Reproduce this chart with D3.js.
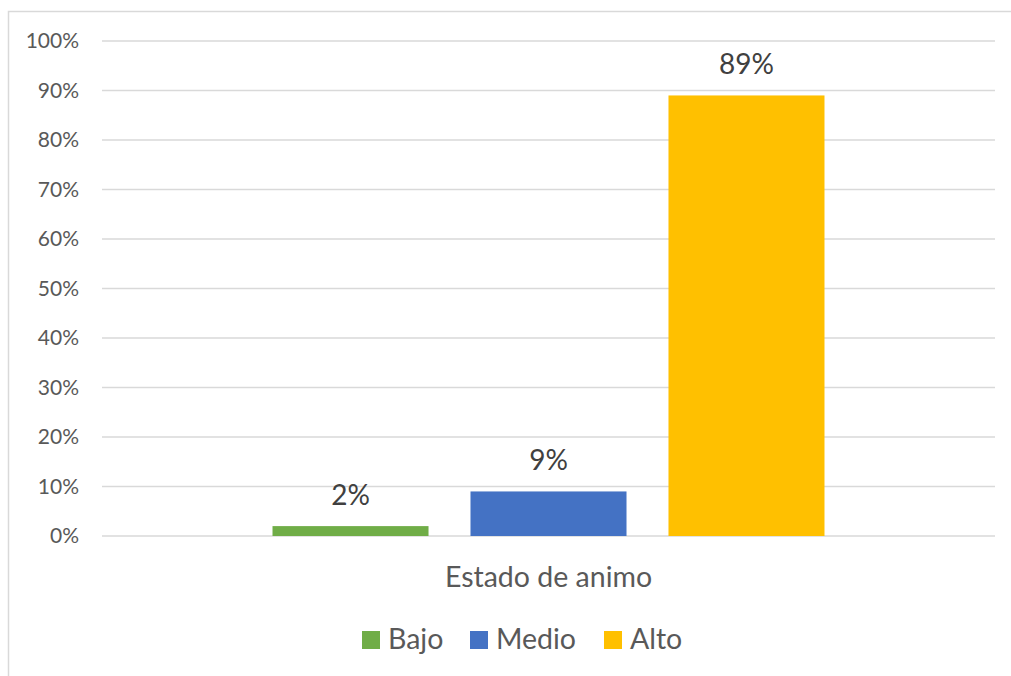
<!DOCTYPE html>
<html>
<head>
<meta charset="utf-8">
<script src="https://cdn.jsdelivr.net/npm/d3@7"></script>
<style>
  html, body { margin: 0; padding: 0; background: #fff; }
  svg { display: block; font-family: Lato, "Open Sans", sans-serif; }
</style>
</head>
<body>
<svg id="chart" width="1011" height="676"></svg>
<script>
// Category axis and series
const categories = ["Estado de animo"];
const seriesNames = ["Bajo", "Medio", "Alto"];
const seriesValues = [0.02, 0.09, 0.89];
const seriesColors = ["#70AD47", "#4472C4", "#FFC000"];
const yTicks = [0, 0.1, 0.2, 0.3, 0.4, 0.5, 0.6, 0.7, 0.8, 0.9, 1.0];

const svg = d3.select("#chart");

// Outer chart frame
svg.append("rect")
  .attr("x", 8.5).attr("y", 11.5)
  .attr("width", 1020).attr("height", 700)
  .attr("fill", "none").attr("stroke", "#d9d9d9").attr("stroke-width", 1.5);

const plot = { left: 102, right: 995, top: 41, bottom: 536 };

const y = d3.scaleLinear().domain([0, 1]).range([plot.bottom, plot.top]);

const x0 = d3.scaleBand().domain(categories)
  .range([plot.left, plot.right]).paddingInner(0.236).paddingOuter(0.236);
const x1 = d3.scaleBand().domain(seriesNames)
  .range([0, x0.bandwidth()]).paddingInner(0.212).paddingOuter(0);

// Gridlines
svg.append("g").selectAll("line").data(yTicks).join("line")
  .attr("x1", plot.left).attr("x2", plot.right)
  .attr("y1", d => y(d)).attr("y2", d => y(d))
  .attr("stroke", "#d9d9d9").attr("stroke-width", 1.5);

// Y axis labels
const yAxis = d3.axisLeft(y).tickValues(yTicks)
  .tickFormat(d3.format(".0%")).tickSize(0).tickPadding(23);
const gy = svg.append("g").attr("transform", `translate(${plot.left},0)`).call(yAxis);
gy.select(".domain").remove();
gy.selectAll("text").attr("fill", "#595959").attr("font-size", 21)
  .attr("font-family", "Lato, 'Open Sans', sans-serif");

// Bars
const group = svg.append("g").attr("transform", `translate(${x0(categories[0])},0)`);
group.selectAll("rect").data(seriesNames).join("rect")
  .attr("x", d => x1(d))
  .attr("width", x1.bandwidth())
  .attr("y", (d, i) => y(seriesValues[i]))
  .attr("height", (d, i) => y(0) - y(seriesValues[i]))
  .attr("fill", (d, i) => seriesColors[i]);

// Value labels
group.selectAll("text.val").data(seriesNames).join("text")
  .attr("class", "val")
  .attr("x", d => x1(d) + x1.bandwidth() / 2)
  .attr("y", (d, i) => y(seriesValues[i]) - 21)
  .attr("text-anchor", "middle")
  .attr("font-size", 28).attr("fill", "#404040")
  .text((d, i) => d3.format(".0%")(seriesValues[i]));

// Category label
svg.append("text")
  .attr("x", x0(categories[0]) + x0.bandwidth() / 2)
  .attr("y", 587)
  .attr("text-anchor", "middle")
  .attr("font-size", 28.5).attr("fill", "#595959")
  .text(categories[0]);

// Legend
const legendX = [362, 470, 604];
const legend = svg.append("g");
seriesNames.forEach((name, i) => {
  legend.append("rect")
    .attr("x", legendX[i]).attr("y", 631)
    .attr("width", 18).attr("height", 18)
    .attr("fill", seriesColors[i]);
  legend.append("text")
    .attr("x", legendX[i] + 26).attr("y", 649)
    .attr("font-size", 28.5).attr("fill", "#595959")
    .text(name);
});
</script>
</body>
</html>
